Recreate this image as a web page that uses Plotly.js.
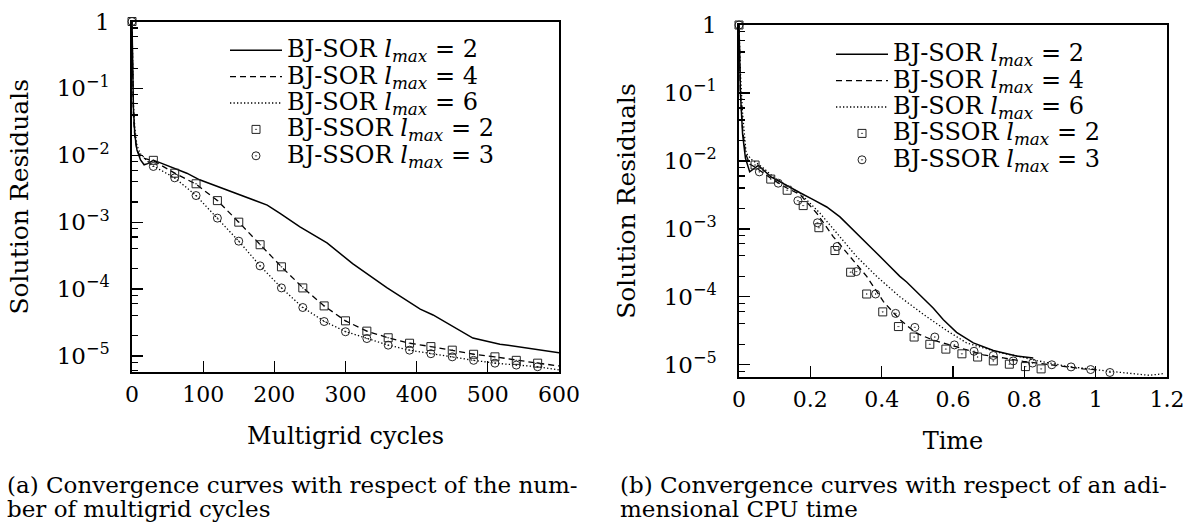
<!DOCTYPE html>
<html><head><meta charset="utf-8">
<script src="https://cdn.plot.ly/plotly-3.0.1.min.js"></script>
<style>html,body{margin:0;padding:0;background:#fff}#chart{width:1190px;height:525px}</style>
</head><body><div id="chart"></div>
<script>
// ---------- Panel (a): residual vs multigrid cycles ----------
const sor2CyclesA = [0, 1, 2, 4, 7, 12, 17, 22, 30, 40, 57, 77, 95, 124, 156, 176, 190, 208, 236, 274, 310, 358, 405, 423, 457, 479, 517, 563, 600];
const sor2ResA = [1, 0.15, 0.05, 0.02, 0.012, 0.0085, 0.0072, 0.0075, 0.0084, 0.0077, 0.0066, 0.0054, 0.0043, 0.0033, 0.0025, 0.0021, 0.0018, 0.00135, 0.00085, 0.00049, 0.00024, 0.000105, 0.00005, 0.000041, 0.000025, 0.0000185, 0.000015, 0.0000127, 0.0000112];

const sor4CyclesA = [0, 1, 2, 4, 7, 12, 20, 30, 60, 90, 120, 150, 180, 210, 240, 270, 300, 330, 360, 390, 420, 450, 480, 510, 540, 570, 600];
const sor4ResA = [1, 0.12, 0.04, 0.018, 0.012, 0.0095, 0.0088, 0.0083, 0.0054, 0.0037, 0.0021, 0.001, 0.00046, 0.000215, 0.000105, 0.000056, 0.0000335, 0.0000235, 0.0000187, 0.0000155, 0.0000138, 0.0000122, 0.0000106, 0.0000097, 0.0000086, 0.0000078, 0.0000071];

const sor6CyclesA = [0, 1, 2, 4, 7, 12, 20, 30, 60, 90, 120, 150, 180, 210, 240, 270, 300, 330, 360, 390, 420, 450, 480, 510, 540, 570, 600];
const sor6ResA = [1, 0.2, 0.06, 0.025, 0.014, 0.0105, 0.0085, 0.0069, 0.0046, 0.0025, 0.00115, 0.00052, 0.000222, 0.000104, 0.000053, 0.000033, 0.0000232, 0.0000183, 0.0000145, 0.0000122, 0.0000108, 0.0000097, 0.0000086, 0.0000078, 0.0000073, 0.0000069, 0.0000062];

const ssorCyclesA = [0, 30, 60, 90, 120, 150, 180, 210, 240, 270, 300, 330, 360, 390, 420, 450, 480, 510, 540, 570];
const ssor2ResA = [1, 0.0084, 0.0054, 0.00375, 0.0021, 0.001, 0.00046, 0.000215, 0.000104, 0.000056, 0.0000335, 0.0000235, 0.0000187, 0.0000155, 0.0000138, 0.0000122, 0.0000106, 0.0000097, 0.0000086, 0.0000078];
const ssor3ResA = [1, 0.0068, 0.0046, 0.0025, 0.00115, 0.00052, 0.000222, 0.000104, 0.000053, 0.0000327, 0.000023, 0.0000182, 0.0000145, 0.0000122, 0.0000108, 0.0000097, 0.0000086, 0.0000078, 0.0000073, 0.0000069];

// ---------- Panel (b): residual vs adimensional CPU time ----------
const sor2TimeB = [0, 0.004, 0.01, 0.018, 0.03, 0.054, 0.09, 0.134, 0.171, 0.208, 0.246, 0.283, 0.33, 0.377, 0.415, 0.451, 0.47, 0.517, 0.545, 0.573, 0.61, 0.657, 0.713, 0.778, 0.825];
const sor2ResB = [1, 0.1, 0.025, 0.011, 0.0069, 0.0086, 0.0058, 0.0043, 0.0034, 0.0027, 0.0021, 0.0015, 0.00087, 0.00049, 0.00031, 0.0002, 0.000165, 0.000095, 0.000068, 0.000046, 0.00003, 0.000021, 0.0000162, 0.0000135, 0.0000126];

const sor4TimeB = [0, 0.004, 0.01, 0.018, 0.03, 0.05, 0.09, 0.13, 0.171, 0.218, 0.264, 0.311, 0.358, 0.405, 0.451, 0.498, 0.545, 0.592, 0.638, 0.685, 0.741, 0.797, 0.872, 0.965, 1.0];
const sor4ResB = [1, 0.1, 0.03, 0.013, 0.009, 0.0078, 0.0055, 0.0041, 0.0032, 0.0017, 0.00077, 0.00039, 0.0002, 0.000085, 0.000046, 0.000029, 0.000023, 0.0000196, 0.0000166, 0.000014, 0.0000126, 0.0000112, 0.00001, 0.0000087, 0.0000085];

const sor6TimeB = [0, 0.004, 0.01, 0.02, 0.035, 0.064, 0.1, 0.171, 0.227, 0.283, 0.33, 0.386, 0.451, 0.526, 0.582, 0.638, 0.685, 0.732, 0.778, 0.835, 0.919, 0.984, 1.04, 1.105, 1.15, 1.19];
const sor6ResB = [1, 0.2, 0.05, 0.013, 0.0105, 0.0082, 0.0056, 0.00335, 0.0017, 0.00077, 0.00039, 0.0002, 0.0001, 0.000051, 0.000032, 0.000021, 0.0000177, 0.000015, 0.0000135, 0.0000115, 0.0000095, 0.0000086, 0.000008, 0.0000074, 0.000007, 0.0000074];

const ssor2TimeB = [0, 0.045, 0.089, 0.135, 0.180, 0.224, 0.269, 0.313, 0.358, 0.403, 0.447, 0.491, 0.535, 0.580, 0.625, 0.669, 0.713, 0.758, 0.803, 0.847];
const ssor2ResB = [1, 0.0087, 0.0054, 0.0037, 0.0022, 0.00104, 0.00048, 0.00023, 0.00011, 0.00006, 0.0000365, 0.0000256, 0.00002, 0.000017, 0.0000145, 0.000013, 0.0000114, 0.0000102, 0.0000094, 0.0000087];
const ssor3TimeB = [0, 0.057, 0.110, 0.165, 0.220, 0.275, 0.329, 0.383, 0.439, 0.493, 0.549, 0.604, 0.659, 0.713, 0.769, 0.823, 0.877, 0.931, 0.986, 1.040];
const ssor3ResB = [1, 0.0069, 0.0047, 0.0026, 0.00123, 0.00055, 0.000235, 0.00011, 0.000057, 0.0000355, 0.0000256, 0.0000196, 0.0000158, 0.0000137, 0.0000114, 0.0000106, 0.00001, 0.0000093, 0.0000085, 0.0000077];

// ---------- Labels ----------
const seriesNames = [
  'BJ-SOR <i>l</i><sub><i>max</i></sub> = 2',
  'BJ-SOR <i>l</i><sub><i>max</i></sub> = 4',
  'BJ-SOR <i>l</i><sub><i>max</i></sub> = 6',
  'BJ-SSOR <i>l</i><sub><i>max</i></sub> = 2',
  'BJ-SSOR <i>l</i><sub><i>max</i></sub> = 3'
];
const xTicksA = [0, 100, 200, 300, 400, 500, 600];
const xTicksB = [0, 0.2, 0.4, 0.6, 0.8, 1, 1.2];
const xTickTextB = ['0', '0.2', '0.4', '0.6', '0.8', '1', '1.2'];
const yTickVals = [1, 1e-1, 1e-2, 1e-3, 1e-4, 1e-5];
const yTickText = ['1', '10<sup>−1</sup>', '10<sup>−2</sup>', '10<sup>−3</sup>', '10<sup>−4</sup>', '10<sup>−5</sup>'];
const xTitleA = 'Multigrid cycles';
const xTitleB = 'Time';
const yTitle = 'Solution Residuals';
const captionA = ['(a) Convergence curves with respect of the num-', 'ber of multigrid cycles'];
const captionB = ['(b) Convergence curves with respect of an adi-', 'mensional CPU time'];

// ---------- Styling ----------
const FONT = 'DejaVu Serif';
const W = 1190, H = 525;
const minorVals = [];
for (let e = -6; e <= 0; e++) for (const m of [2, 4, 6, 8]) minorVals.push(m * Math.pow(10, e));

const lineStyles = [
  {color: '#000', width: 1.5, dash: 'solid'},
  {color: '#000', width: 1.3, dash: '6px,4px'},
  {color: '#000', width: 1.3, dash: '1.3px,2.2px'}
];
const sqMarker = {symbol: 'square-open-dot', size: 8, color: '#222', line: {width: 1, color: '#222'}};
const ciMarker = {symbol: 'circle-open-dot', size: 8, color: '#222', line: {width: 1, color: '#222'}};

// legend label: row pitch from the legend font, glyph size from the span
const legendLabel = s => '<span style="font-size:24px">' + s + '</span>';

function panelTraces(xs, ys, sqx, sqy, cix, ciy, xa, ya, leg) {
  return [
    {x: xs[0], y: ys[0], mode: 'lines', line: lineStyles[0], name: legendLabel(seriesNames[0]), xaxis: xa, yaxis: ya, legend: leg},
    {x: xs[1], y: ys[1], mode: 'lines', line: lineStyles[1], name: legendLabel(seriesNames[1]), xaxis: xa, yaxis: ya, legend: leg},
    {x: xs[2], y: ys[2], mode: 'lines', line: lineStyles[2], name: legendLabel(seriesNames[2]), xaxis: xa, yaxis: ya, legend: leg},
    {x: sqx, y: sqy, mode: 'markers', marker: sqMarker, name: legendLabel(seriesNames[3]), xaxis: xa, yaxis: ya, legend: leg, cliponaxis: false},
    {x: cix, y: ciy, mode: 'markers', marker: ciMarker, name: legendLabel(seriesNames[4]), xaxis: xa, yaxis: ya, legend: leg, cliponaxis: false}
  ];
}

const traces = [
  ...panelTraces([sor2CyclesA, sor4CyclesA, sor6CyclesA], [sor2ResA, sor4ResA, sor6ResA],
                 ssorCyclesA, ssor2ResA, ssorCyclesA, ssor3ResA, 'x', 'y', 'legend'),
  ...panelTraces([sor2TimeB, sor4TimeB, sor6TimeB], [sor2ResB, sor4ResB, sor6ResB],
                 ssor2TimeB, ssor2ResB, ssor3TimeB, ssor3ResB, 'x2', 'y2', 'legend2')
];

function xAxis(domain, range, vals, text, anchor, title) {
  return {
    domain: domain, range: range, anchor: anchor, tickmode: 'array', tickvals: vals, ticktext: text,
    ticks: 'inside', ticklen: 11, tickwidth: 1.3, tickcolor: '#000',
    showline: true, linewidth: 1.7, linecolor: '#000', mirror: true,
    showgrid: false, zeroline: false, automargin: false,
    tickfont: {family: FONT, size: 22, color: '#000'}, ticklabelstandoff: 2,
    title: {text: title, font: {family: FONT, size: 24, color: '#000'}, standoff: 21}
  };
}
function yAxis(domain, range, anchor) {
  return {
    type: 'log', domain: domain, range: range, anchor: anchor,
    tickmode: 'array', tickvals: yTickVals, ticktext: yTickText,
    ticks: 'inside', ticklen: 11, tickwidth: 1.3, tickcolor: '#000',
    minor: {tickmode: 'array', tickvals: minorVals, ticks: 'inside', ticklen: 6, tickwidth: 1.1, tickcolor: '#000', showgrid: false},
    showline: true, linewidth: 1.7, linecolor: '#000', mirror: true,
    showgrid: false, zeroline: false, automargin: false,
    tickfont: {family: FONT, size: 23, color: '#000'}, ticklabelstandoff: 16,
    title: {text: yTitle, font: {family: FONT, size: 25, color: '#000'}, standoff: 21}
  };
}

function legendCfg(x, y) {
  return {x: x, y: y, xref: 'paper', yref: 'paper', xanchor: 'left', yanchor: 'top',
          bgcolor: 'rgba(0,0,0,0)', borderwidth: 0, itemwidth: 52, tracegroupgap: 0,
          font: {family: FONT, size: 18, color: '#000'}};
}

const captionFont = {family: FONT, size: 23, color: '#000'};
function cap(text, xpx, ypx) {
  return {text: text, xref: 'paper', yref: 'paper', x: xpx / W, y: 1 - ypx / H,
          xanchor: 'left', yanchor: 'middle', showarrow: false, font: captionFont};
}

const layout = {
  width: W, height: H, margin: {l: 0, r: 0, t: 0, b: 0},
  paper_bgcolor: '#fff', plot_bgcolor: 'rgba(0,0,0,0)', showlegend: true,
  font: {family: FONT, color: '#000'},
  xaxis: xAxis([132 / W, 559 / W], [0, 600], xTicksA, xTicksA.map(String), 'y', xTitleA),
  yaxis: yAxis([(H - 372) / H, (H - 21.5) / H], [-5.24, 0], 'x'),
  xaxis2: xAxis([739 / W, 1167 / W], [0, 1.2], xTicksB, xTickTextB, 'y2', xTitleB),
  yaxis2: yAxis([(H - 377) / H, (H - 25) / H], [-5.18, 0], 'x2'),
  legend: legendCfg(225 / W, 1 - 32 / H),
  legend2: legendCfg(831 / W, 1 - 36 / H),
  annotations: [
    cap(captionA[0], 5, 485), cap(captionA[1], 5, 509),
    cap(captionB[0], 618, 485), cap(captionB[1], 618, 509)
  ]
};

Plotly.newPlot('chart', traces, layout, {staticPlot: true, displayModeBar: false});
</script>
</body></html>
